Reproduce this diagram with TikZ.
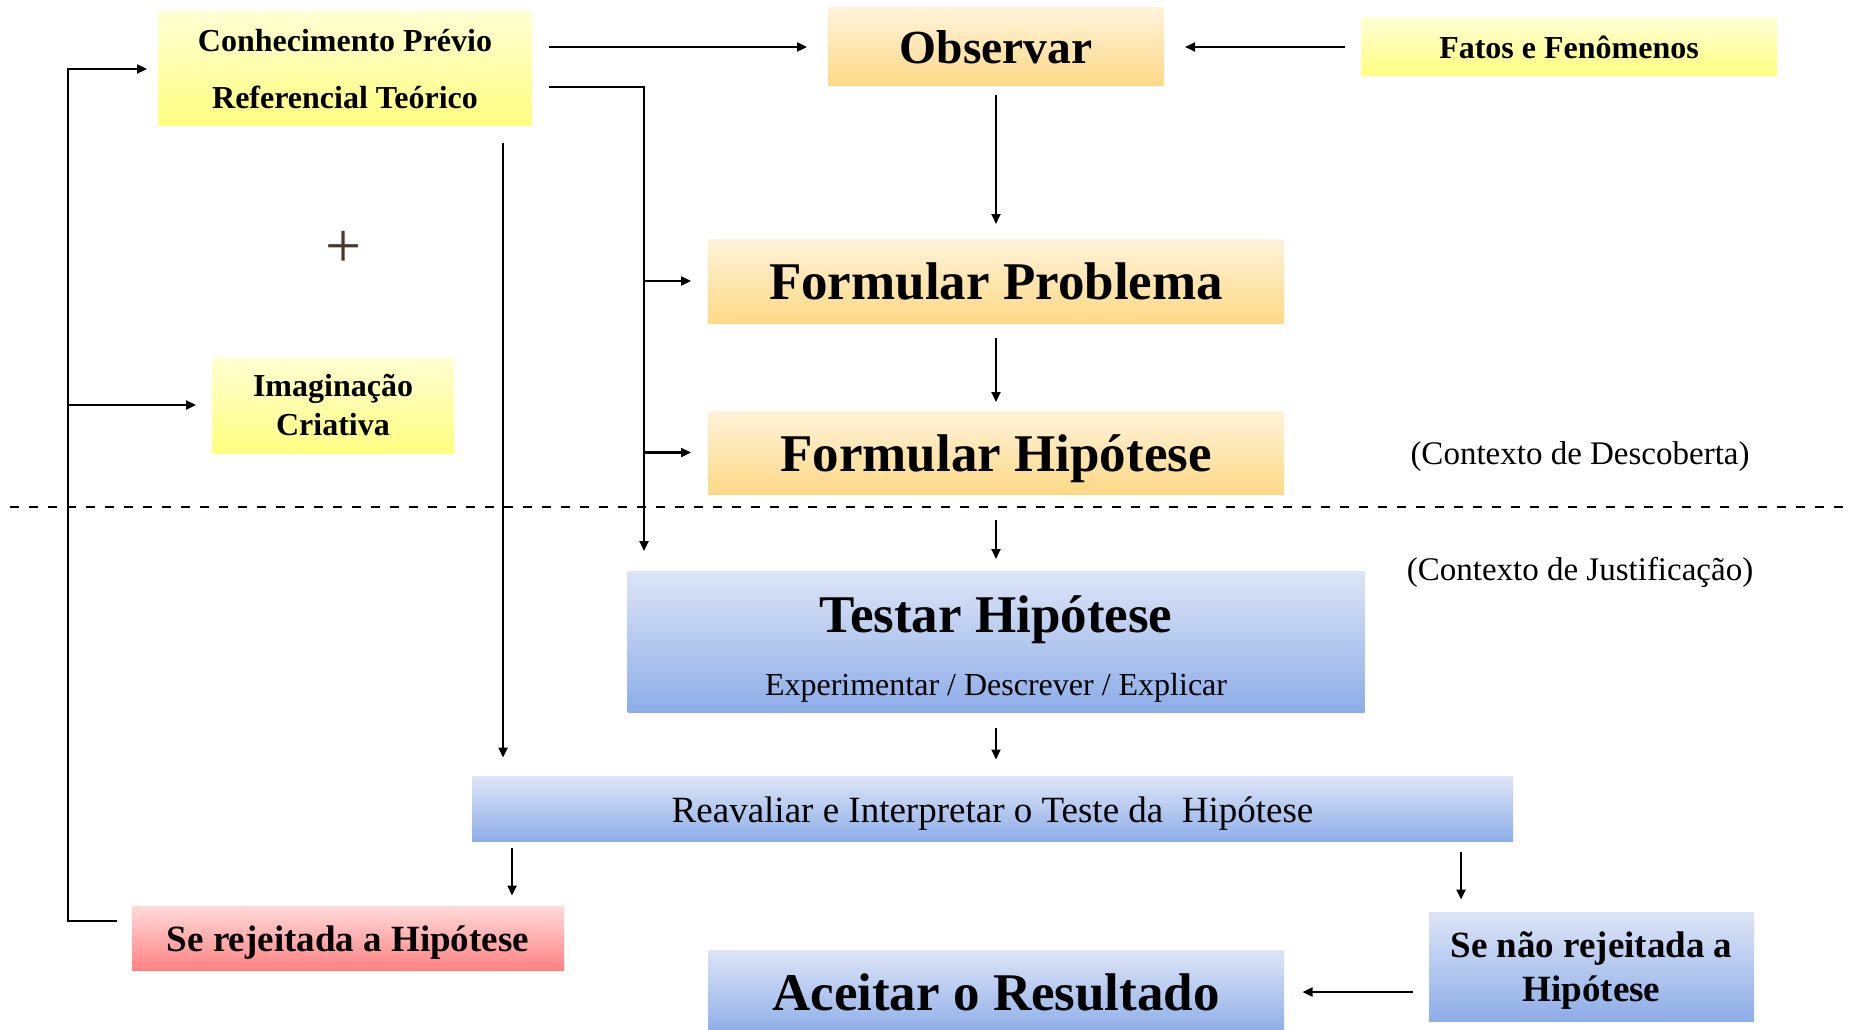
\documentclass[tikz,border=0pt]{standalone}
\usepackage{fontspec}
\setmainfont{Liberation Serif}
\usetikzlibrary{positioning,arrows.meta}
\definecolor{ambertop}{HTML}{FFF3DA}
\definecolor{amberbot}{HTML}{FCD985}
\definecolor{lemontop}{HTML}{FFFFD4}
\definecolor{lemonbot}{HTML}{FFFF80}
\definecolor{skytop}{HTML}{DDE5F7}
\definecolor{skybot}{HTML}{8DADE8}
\definecolor{rosetop}{HTML}{FFDADA}
\definecolor{rosebot}{HTML}{FF8282}
\definecolor{plusbrown}{HTML}{4A372C}

\begin{document}
\begin{tikzpicture}[x=1pt, y=-1pt,
    box/.style={inner sep=0pt, outer sep=0pt, align=center},
    amber/.style={box, top color=ambertop, bottom color=amberbot},
    lemon/.style={box, top color=lemontop, bottom color=lemonbot},
    sky/.style={box, top color=skytop, bottom color=skybot},
    rose/.style={box, top color=rosetop, bottom color=rosebot},
    bigtext/.style={font=\fontsize{53}{60}\selectfont\bfseries, text height=37pt, text depth=0pt},
    obstext/.style={font=\fontsize{47.5}{54}\selectfont\bfseries, text height=33pt, text depth=0pt},
    boldmid/.style={font=\fontsize{37}{44}\selectfont\bfseries, text height=26pt, text depth=0pt},
    plainmid/.style={font=\fontsize{37}{44}\selectfont, text height=26pt, text depth=0pt},
    boldsmall/.style={font=\fontsize{32}{38}\selectfont\bfseries, text height=22.4pt, text depth=0pt},
    plainsmall/.style={font=\fontsize{32}{38}\selectfont, text height=22.4pt, text depth=0pt},
    context/.style={font=\fontsize{33}{38}\selectfont, text height=23pt, text depth=0pt},
    arr/.style={line width=2.3pt, -{Triangle[length=10pt,width=9pt]}},
    thinarr/.style={arr, line width=1.8pt},
    divider/.style={line width=2.4pt, dash pattern=on 9pt off 10pt}]
    \useasboundingbox (0,0) rectangle (1849,1030);

    \node[amber, obstext, minimum width=336pt, minimum height=78pt] (obs) at (996,47) {Observar};
    \node[amber, bigtext, minimum width=576pt, minimum height=84pt, below=153pt of obs] (fprob) {Formular Problema};
    \node[amber, bigtext, minimum width=576pt, minimum height=83pt, below=88pt of fprob] (fhip) {Formular Hipótese};
    \node[sky, minimum width=737pt, minimum height=141pt, below=77pt of fhip] (testar) {};
    \node[bigtext, yshift=27.5pt] (testartitle) at (testar.center) {Testar Hipótese};
    \node[plainsmall, yshift=-42.5pt] (testarsub) at (testar.center) {Experimentar / Descrever / Explicar};
    \node[sky, plainmid, minimum width=1041pt, minimum height=65pt, below=64.5pt of testar, xshift=-3.5pt] (reav) {Reavaliar e Interpretar o Teste da\ \ Hipótese};
    \node[sky, bigtext, minimum width=576pt, minimum height=84pt, below=108.5pt of reav, xshift=3.5pt] (aceitar) {Aceitar o Resultado};
    \node[lemon, boldsmall, minimum width=416pt, minimum height=58pt, right=197pt of obs] (fatos) {Fatos e Fenômenos};

    \node[lemon, font=\fontsize{32}{57}\selectfont\bfseries, minimum width=374pt, minimum height=114pt] (conh) at (345,69) {Conhecimento Prévio\\Referencial Teórico};
    \node[lemon, font=\fontsize{32}{39}\selectfont\bfseries, minimum width=242pt, minimum height=96pt] (imag) at (333,405) {Imaginação\\Criativa};
    \node[rose, boldmid, minimum width=432pt, minimum height=64pt] (rej) at (348,938) {Se rejeitada a Hipótese};
    \node[sky, font=\fontsize{37}{44}\selectfont\bfseries, minimum width=325pt, minimum height=109pt] (senao) at (1591.5,966.5) {Se não rejeitada a\\\raisebox{0pt}[\height][0pt]{Hipótese}};
    \node[font=\fontsize{64}{64}\selectfont, text=plusbrown, anchor=base] (plus) at (344,267) {+};
    \node[context] (descoberta) at (1580,453) {(Contexto de Descoberta)};
    \node[context] (justificacao) at (1580,569) {(Contexto de Justificação)};

    \draw[divider] (10,507) -- (1849,507);

    \draw[arr, shorten <=17pt, shorten >=21pt] (conh.east |- obs.west) -- (obs.west);
    \draw[arr, shorten <=16pt, shorten >=21pt] (fatos.west) -- (fatos.west -| obs.east);
    \draw[thinarr, shorten <=9.5pt, shorten >=15pt] (obs) -- (fprob);
    \draw[thinarr, shorten <=15pt, shorten >=9pt] (fprob) -- (fhip);
    \draw[thinarr, shorten <=25.5pt, shorten >=12pt] (fhip) -- (testar);
    \draw[thinarr, shorten <=15.5pt, shorten >=17pt] (testar.south) -- (testar.south |- reav.north);

    \path ([xshift=40pt]reav.south west) coordinate (rejtap);
    \draw[arr, shorten <=6pt, shorten >=10.5pt] (rejtap) -- (rejtap |- rej.north);
    \path ([xshift=32pt]senao.north west) coordinate (naotap);
    \draw[arr, shorten <=10.5pt, shorten >=12.5pt] (naotap |- reav.south) -- (naotap);
    \draw[arr, shorten <=16pt, shorten >=18.5pt] (senao.west |- aceitar.east) -- (aceitar.east);

    \path ([xshift=-15pt, yshift=17pt]rej.west) coordinate (loopstart);
    \draw[arr] (loopstart) -- ++(-49pt,0) coordinate (loopcorner) |- ([xshift=-11pt]conh.west);
    \draw[arr] (loopcorner |- imag.west) -- ([xshift=-16pt]imag.west);

    \path ([xshift=-29pt]conh.south east) coordinate (conhtap);
    \draw[arr, shorten <=17pt, shorten >=19pt] (conhtap) -- (conhtap |- reav.north);

    \path ([xshift=17pt, yshift=-18pt]conh.east) coordinate (busstart);
    \draw[arr, shorten >=20pt] (busstart) -- ++(95pt,0) coordinate (bus) -- (bus |- testar.north);
    \draw[arr, shorten >=17pt] (bus |- fprob.west) -- (fprob.west);
    \draw[arr, shorten >=17pt] (bus |- fhip.west) -- (fhip.west);
\end{tikzpicture}
\end{document}
